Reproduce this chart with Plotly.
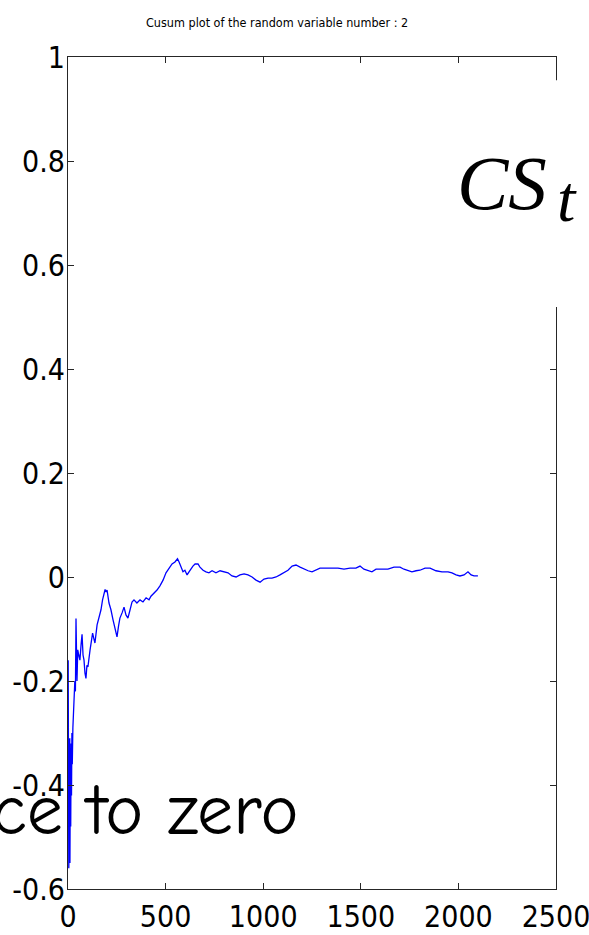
import plotly.graph_objects as go

# Sample index (t) and cusum value
t_vals = [1, 2, 3, 4, 5, 6, 7, 8, 9, 10, 12, 14, 16, 18, 20, 22, 25, 30, 35, 38,
          41, 46, 50, 55, 61, 67, 72, 77, 82, 87, 92, 97, 102, 113, 120, 126, 132, 138,
          149, 159, 169, 177, 184, 190, 195, 200, 210, 220, 231, 241, 251, 259, 266,
          277, 287, 297, 307, 318, 328, 338, 353, 369, 384, 400, 415, 425, 441, 456,
          471, 487, 502, 517, 533, 548, 561, 569, 579, 589, 599, 610, 620, 630, 640,
          651, 666, 676, 692, 707, 722, 738, 758, 779, 799, 820, 840, 861, 881, 902,
          922, 943, 963, 984, 1004, 1025, 1045, 1066, 1086, 1107, 1127, 1148, 1168,
          1189, 1209, 1230, 1250, 1271, 1291, 1322, 1352, 1383, 1414, 1445, 1475,
          1496, 1516, 1537, 1557, 1578, 1609, 1639, 1670, 1701, 1721, 1742, 1762,
          1783, 1803, 1829, 1855, 1885, 1916, 1947, 1967, 1988, 2008, 2029, 2049,
          2065, 2080, 2100]
cs_vals = [-0.16, -0.45, -0.30, -0.56, -0.38, -0.52, -0.33, -0.50, -0.31, -0.55,
           -0.35, -0.48, -0.32, -0.42, -0.30, -0.36, -0.29, -0.25, -0.20, -0.22,
           -0.08, -0.20, -0.14, -0.15, -0.16, -0.13, -0.11, -0.15, -0.16, -0.185,
           -0.195, -0.17, -0.173, -0.14, -0.12, -0.108, -0.118, -0.127, -0.092,
           -0.079, -0.063, -0.044, -0.031, -0.024, -0.029, -0.025, -0.05, -0.063,
           -0.083, -0.102, -0.115, -0.094, -0.079, -0.069, -0.058, -0.073, -0.079,
           -0.063, -0.048, -0.044, -0.05, -0.044, -0.048, -0.04, -0.044, -0.037,
           -0.031, -0.025, -0.017, -0.006, 0.008, 0.017, 0.025, 0.029, 0.035, 0.029,
           0.019, 0.010, 0.013, 0.004, 0.010, 0.017, 0.021, 0.025, 0.025, 0.019,
           0.013, 0.010, 0.008, 0.012, 0.008, 0.012, 0.010, 0.008, 0.002, 0.0,
           0.004, 0.006, 0.004, 0.0, -0.006, -0.010, -0.004, -0.002, -0.002, 0.0,
           0.004, 0.008, 0.013, 0.021, 0.023, 0.019, 0.015, 0.012, 0.010, 0.013,
           0.017, 0.017, 0.017, 0.017, 0.015, 0.017, 0.017, 0.021, 0.015, 0.012,
           0.010, 0.015, 0.015, 0.015, 0.019, 0.019, 0.015, 0.012, 0.010, 0.012,
           0.013, 0.017, 0.017, 0.012, 0.010, 0.010, 0.008, 0.004, 0.002, 0.004,
           0.010, 0.004, 0.002, 0.002]

x_ticks = [0, 500, 1000, 1500, 2000, 2500]
x_tick_labels = ["0", "500", "1000", "1500", "2000", "2500"]
y_ticks = [-0.6, -0.4, -0.2, 0, 0.2, 0.4, 0.6, 0.8, 1]
y_tick_labels = ["-0.6", "-0.4", "-0.2", "0", "0.2", "0.4", "0.6", "0.8", "1"]

title_text = "Cusum plot of the random variable number : 2"
formula_main = "<i>CS</i>"
formula_sub = "<i>t</i>"
overlay_text = "ce to zero"

NARROW = "Liberation Sans Narrow, Arial Narrow, DejaVu Sans Condensed, Liberation Sans, sans-serif"
SERIF = "Liberation Serif, DejaVu Serif, serif"
AXCOL = "#262626"

fig = go.Figure()
fig.add_trace(go.Scatter(x=t_vals, y=cs_vals, mode="lines",
                         line=dict(color="#0000ff", width=1.3),
                         showlegend=False, hoverinfo="skip"))

axis_common = dict(showline=True, linecolor=AXCOL, linewidth=1, mirror="ticks",
                   ticks="inside", ticklen=6, tickwidth=1, tickcolor=AXCOL,
                   showgrid=False, zeroline=False, ticklabeloverflow="allow",
                   automargin=False,
                   tickfont=dict(family=NARROW, size=30, color="black"))

fig.update_layout(
    width=589, height=935,
    margin=dict(l=68, r=33, t=57, b=46),
    paper_bgcolor="white", plot_bgcolor="white",
    xaxis=dict(range=[0, 2500], tickvals=x_ticks, ticktext=x_tick_labels,
               ticklabelstandoff=1, **axis_common),
    yaxis=dict(range=[-0.6, 1], tickvals=y_ticks, ticktext=y_tick_labels,
               ticklabelstandoff=-4, **axis_common),
    shapes=[dict(type="rect", xref="paper", yref="paper",
                 x0=0.76, x1=1.2, y0=0.6995, y1=0.972,
                 fillcolor="white", line=dict(width=0), layer="above")],
    annotations=[
        dict(text=title_text, xref="paper", yref="paper", x=0.428, y=1.042,
             xanchor="center", yanchor="middle", showarrow=False,
             font=dict(family=NARROW, size=12.5, color="black")),
        dict(text=formula_main, xref="paper", yref="paper", x=0.793, y=0.8486,
             xanchor="left", yanchor="middle", showarrow=False,
             font=dict(family=SERIF, size=77, color="black")),
        dict(text=formula_sub, xref="paper", yref="paper", x=0.998, y=0.83,
             xanchor="left", yanchor="middle", showarrow=False,
             font=dict(family=SERIF, size=66, color="black")),
        dict(text=overlay_text, xref="paper", yref="paper", x=0.477, y=0.094,
             xanchor="right", yanchor="middle", showarrow=False,
             font=dict(family="Comic Sans MS, Comic Neue, DejaVu Sans, sans-serif", size=72,
                       color="black")),
    ],
)

fig.write_html("out.html")
